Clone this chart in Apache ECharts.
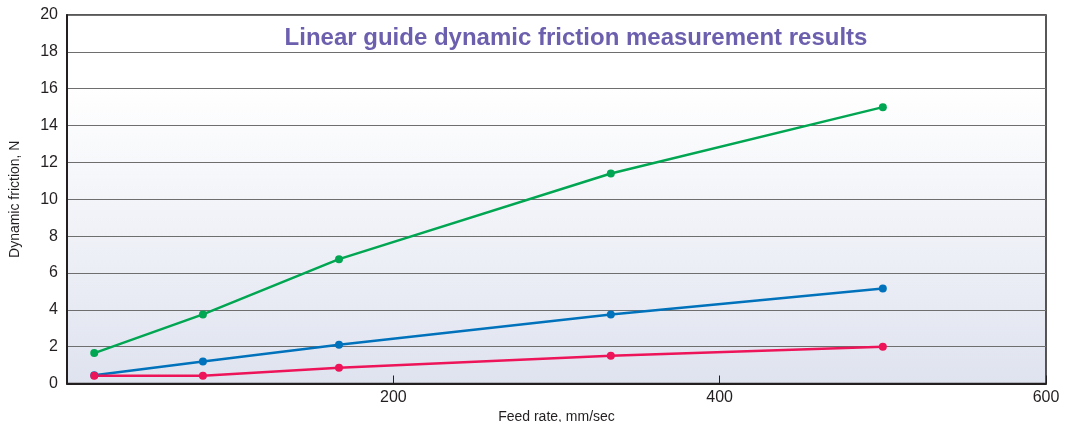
<!DOCTYPE html>
<html><head><meta charset="utf-8">
<script src="https://cdn.jsdelivr.net/npm/echarts@6/dist/echarts.min.js"></script>
<style>html,body{margin:0;padding:0;background:#fff}#c{width:1068px;height:422px}</style>
</head><body><div id="c"></div>
<script>
const feedRates = [16.7, 83.3, 166.7, 333.3, 500];
const greenValues = [1.65, 3.75, 6.75, 11.4, 15.0];
const blueValues = [0.45, 1.2, 2.1, 3.75, 5.15];
const redValues = [0.42, 0.42, 0.86, 1.5, 2.0];
const titleText = 'Linear guide dynamic friction measurement results';
const xName = 'Feed rate, mm/sec';
const yName = 'Dynamic friction, N';

function pairs(vals){ return feedRates.map((x,i)=>[x, vals[i]]); }
const chart = echarts.init(document.getElementById('c'));
const font = 'Liberation Sans, Arial, sans-serif';
function ser(vals, color){
  return {type:'line', data:pairs(vals), symbol:'circle', symbolSize:8,
    lineStyle:{color, width:2.5}, itemStyle:{color}, z:3, animation:false};
}
chart.setOption({
  animation:false,
  title:{text:titleText, left:571, top:21, textAlign:'center',
    textStyle:{color:'#6b5fae', fontSize:24, fontWeight:'bold', fontFamily:font}},
  grid:{left:67, right:22, top:15, bottom:38.5, show:true, outerBoundsMode:'none', containLabel:false,
    borderColor:'#231f20', borderWidth:1.5,
    backgroundColor:new echarts.graphic.LinearGradient(0,0,0,1,[
      {offset:0,color:'#ffffff'},{offset:0.2,color:'#ffffff'},{offset:1,color:'#dfe3ef'}])},
  xAxis:{type:'value', min:0, max:600, interval:200,
    name:xName, nameLocation:'middle', nameGap:17,
    nameTextStyle:{color:'#231f20', fontSize:14, fontFamily:font},
    axisLine:{lineStyle:{color:'#231f20', width:2}},
    axisTick:{inside:true, length:8, lineStyle:{color:'#231f20', width:1}},
    axisLabel:{showMinLabel:false, color:'#231f20', fontSize:16, fontFamily:font, margin:6},
    splitLine:{show:false}},
  yAxis:{type:'value', min:0, max:20, interval:2,
    name:yName, nameLocation:'middle', nameGap:45,
    nameTextStyle:{color:'#231f20', fontSize:14, fontFamily:font},
    axisLine:{show:true, lineStyle:{color:'#231f20', width:2}},
    axisTick:{show:false},
    axisLabel:{color:'#231f20', fontSize:16, fontFamily:font, margin:9},
    splitLine:{lineStyle:{color:'#6e6e6e', width:1.2}}},
  series:[ser(greenValues,'#00a651'), ser(blueValues,'#0072bc'), ser(redValues,'#ed1459')]
});
</script></body></html>
